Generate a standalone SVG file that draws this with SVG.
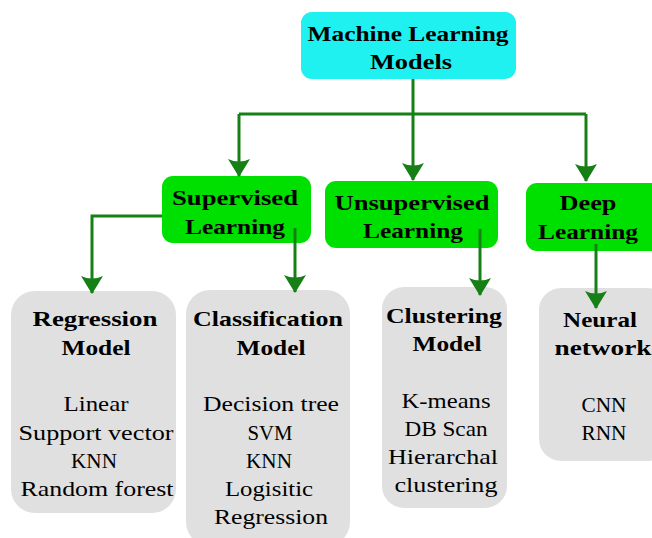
<svg xmlns="http://www.w3.org/2000/svg" width="652" height="538" viewBox="0 0 652 538">
<defs>
<style>
.t{font-family:"Liberation Serif","Times New Roman",serif;text-anchor:middle;fill:#000}
.b{font-weight:bold;font-size:22px}
.r{font-size:22px}
.gray{fill:#e0e0e0}
.green{fill:#00e000}
.con{stroke:#168016;stroke-width:3;fill:none}
</style>
<marker id="ah" viewBox="0 0 18 22" refX="17" refY="11" markerWidth="18" markerHeight="22" markerUnits="userSpaceOnUse" orient="auto">
<path d="M0,0 L18,11 L0,22 Q5,11 0,0 Z" fill="#168016"/>
</marker>
</defs>
<rect width="652" height="538" fill="#fff"/>
<g id="root">
<rect x="301" y="12" width="215" height="67" rx="11" fill="#1ff0f0"/>
<text class="t b" x="408" y="41" textLength="201" lengthAdjust="spacingAndGlyphs">Machine Learning</text>
<text class="t b" x="411" y="69" textLength="82" lengthAdjust="spacingAndGlyphs">Models</text>
</g>
<g id="supervised">
<rect class="green" x="162" y="176" width="149" height="67" rx="11"/>
<text class="t b" x="235" y="205" textLength="126" lengthAdjust="spacingAndGlyphs">Supervised</text>
<text class="t b" x="235" y="234" textLength="100" lengthAdjust="spacingAndGlyphs">Learning</text>
</g>
<g id="unsupervised">
<rect class="green" x="325" y="181" width="173" height="67" rx="11"/>
<text class="t b" x="412" y="210" textLength="155" lengthAdjust="spacingAndGlyphs">Unsupervised</text>
<text class="t b" x="413" y="238" textLength="100" lengthAdjust="spacingAndGlyphs">Learning</text>
</g>
<g id="deep">
<rect class="green" x="526" y="183" width="136" height="68" rx="11"/>
<text class="t b" x="588" y="210" textLength="57" lengthAdjust="spacingAndGlyphs">Deep</text>
<text class="t b" x="588" y="239" textLength="100" lengthAdjust="spacingAndGlyphs">Learning</text>
</g>
<g id="regression">
<rect class="gray" x="11" y="291" width="165" height="222" rx="24"/>
<text class="t b" x="95" y="326" textLength="125" lengthAdjust="spacingAndGlyphs">Regression</text>
<text class="t b" x="96" y="355" textLength="69" lengthAdjust="spacingAndGlyphs">Model</text>
<text class="t r" x="96" y="411" textLength="65" lengthAdjust="spacingAndGlyphs">Linear</text>
<text class="t r" x="96" y="440" textLength="155" lengthAdjust="spacingAndGlyphs">Support vector</text>
<text class="t r" x="94" y="468" textLength="46" lengthAdjust="spacingAndGlyphs">KNN</text>
<text class="t r" x="97" y="496" textLength="153" lengthAdjust="spacingAndGlyphs">Random forest</text>
</g>
<g id="classification">
<rect class="gray" x="186" y="290" width="164" height="256" rx="24"/>
<text class="t b" x="268" y="326" textLength="150" lengthAdjust="spacingAndGlyphs">Classification</text>
<text class="t b" x="271" y="355" textLength="69" lengthAdjust="spacingAndGlyphs">Model</text>
<text class="t r" x="271" y="411" textLength="136" lengthAdjust="spacingAndGlyphs">Decision tree</text>
<text class="t r" x="270" y="440" textLength="45" lengthAdjust="spacingAndGlyphs">SVM</text>
<text class="t r" x="269" y="468" textLength="46" lengthAdjust="spacingAndGlyphs">KNN</text>
<text class="t r" x="269" y="496" textLength="88" lengthAdjust="spacingAndGlyphs">Logisitic</text>
<text class="t r" x="271" y="524" textLength="114" lengthAdjust="spacingAndGlyphs">Regression</text>
</g>
<g id="clustering">
<rect class="gray" x="382" y="287" width="125" height="221" rx="22"/>
<text class="t b" x="444" y="323" textLength="116" lengthAdjust="spacingAndGlyphs">Clustering</text>
<text class="t b" x="447" y="351" textLength="69" lengthAdjust="spacingAndGlyphs">Model</text>
<text class="t r" x="446" y="408" textLength="89" lengthAdjust="spacingAndGlyphs">K-means</text>
<text class="t r" x="446" y="436" textLength="83" lengthAdjust="spacingAndGlyphs">DB Scan</text>
<text class="t r" x="443" y="464" textLength="110" lengthAdjust="spacingAndGlyphs">Hierarchal</text>
<text class="t r" x="446" y="492" textLength="103" lengthAdjust="spacingAndGlyphs">clustering</text>
</g>
<g id="neural">
<rect class="gray" x="539" y="288" width="130" height="173" rx="22"/>
<text class="t b" x="600" y="327" textLength="74" lengthAdjust="spacingAndGlyphs">Neural</text>
<text class="t b" x="603" y="355" textLength="97" lengthAdjust="spacingAndGlyphs">network</text>
<text class="t r" x="604" y="412" textLength="45" lengthAdjust="spacingAndGlyphs">CNN</text>
<text class="t r" x="604" y="440" textLength="45" lengthAdjust="spacingAndGlyphs">RNN</text>
</g>
<g id="connectors">
<path class="con" d="M413,79 V114"/>
<path class="con" d="M239,114 H586"/>
<path class="con" d="M239,114 V176" marker-end="url(#ah)"/>
<path class="con" d="M413,114 V180" marker-end="url(#ah)"/>
<path class="con" d="M586,114 V181" marker-end="url(#ah)"/>
<path class="con" d="M162,216 H92 V293" marker-end="url(#ah)"/>
<path class="con" d="M295,228 V292" marker-end="url(#ah)"/>
<path class="con" d="M480,229 V295" marker-end="url(#ah)"/>
<path class="con" d="M596,244 V308" marker-end="url(#ah)"/>
</g>
</svg>
